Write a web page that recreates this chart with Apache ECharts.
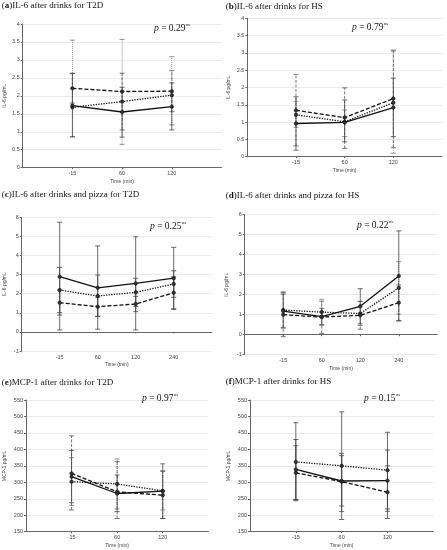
<!DOCTYPE html>
<html><head><meta charset="utf-8">
<script src="https://cdn.jsdelivr.net/npm/echarts@6/dist/echarts.min.js"></script>
<style>html,body{margin:0;padding:0;background:#fff}#c{width:447px;height:550px}</style>
</head><body><div id="c"></div>
<script>
// ---------- tick labels / categories ----------
const times3 = ['-15', '60', '120'];
const times4 = ['-15', '60', '120', '240'];

// ---------- (a) IL-6 after drinks for T2D ----------
const aSolid = [1.73, 1.55, 1.70], aSolidLo = [0.86, 0.85, 1.05], aSolidHi = [2.62, 2.24, 2.36];
const aDashed = [2.21, 2.12, 2.13], aDashedLo = [1.80, 1.05, 1.56], aDashedHi = [2.63, 2.63, 2.70];
const aDotted = [1.68, 1.84, 2.02], aDottedLo = [0.86, 0.65, 1.19], aDottedHi = [3.55, 3.57, 3.09];

// ---------- (b) IL-6 after drinks for HS ----------
const bSolid = [0.96, 0.99, 1.42], bSolidLo = [0.19, 0.43, 0.58], bSolidHi = [1.73, 1.64, 2.27];
const bDashed = [1.34, 1.13, 1.68], bDashedLo = [0.31, 0.24, 0.26], bDashedHi = [2.38, 1.99, 3.08];
const bDotted = [1.21, 1.01, 1.56], bDottedLo = [0.85, 0.58, 0.10], bDottedHi = [1.59, 1.35, 3.05];

// ---------- (c) IL-6 after drinks and pizza for T2D ----------
const cSolid = [2.89, 2.31, 2.54, 2.81], cSolidLo = [0.10, 0.14, 0.10, 1.18], cSolidHi = [5.74, 4.50, 4.98, 4.43];
const cDashed = [1.53, 1.32, 1.46, 2.05], cDashedLo = [0.88, 0.82, 1.06, 1.21], cDashedHi = [2.18, 1.82, 1.86, 2.89];
const cDotted = [2.19, 1.88, 2.07, 2.51], cDottedLo = [1.01, 0.80, 1.33, 1.81], cDottedHi = [3.38, 2.98, 2.81, 3.20];

// ---------- (d) IL-6 after drinks and pizza for HS ----------
const dSolid = [1.18, 0.90, 1.42, 2.94], dSolidLo = [0.33, 0.48, 0.54, 0.69], dSolidHi = [2.03, 1.32, 2.30, 5.19];
const dDashed = [1.00, 0.88, 0.97, 1.60], dDashedLo = [-0.10, 0.07, 0.27, 0.70], dDashedHi = [2.10, 1.67, 1.67, 2.49];
const dDotted = [1.23, 1.13, 1.06, 2.34], dDottedLo = [0.37, 0.50, 0.46, 1.03], dDottedHi = [2.15, 1.77, 1.66, 3.65];

// ---------- (e) MCP-1 after drinks for T2D ----------
const eSolid = [317, 266, 273], eSolidLo = [238, 211, 190], eSolidHi = [397, 322, 356];
const eDashed = [327, 271, 261], eDashedLo = [216, 190, 190], eDashedHi = [441, 363, 335];
const eDotted = [302, 295, 274], eDottedLo = [230, 219, 216], eDottedHi = [375, 371, 333];

// ---------- (f) MCP-1 after drinks for HS ----------
const fSolid = [339, 304, 305], fSolidLo = [248, 228, 212], fSolidHi = [430, 381, 398];
const fDashed = [329, 302, 270], fDashedLo = [247, 211, 190], fDashedHi = [411, 388, 350];
const fDotted = [362, 350, 337], fDottedLo = [244, 187, 219], fDottedHi = [481, 514, 452];

const titles = ['IL-6 after drinks for T2D', 'IL-6 after drinks for HS',
  'IL-6 after drinks and pizza for T2D', 'IL-6 after drinks and pizza for HS',
  'MCP-1 after drinks for T2D', 'MCP-1 after drinks for HS'];
const letters = ['a', 'b', 'c', 'd', 'e', 'f'];
const pValues = ['0.29', '0.79', '0.25', '0.22', '0.97', '0.15'];
const yNames = ['IL-6 pg/mL', 'IL-6 pg/mL', 'IL-6 pg/mL', 'IL-6 pg/mL', 'MCP-1 pg/mL', 'MCP-1 pg/mL'];
const yRanges = [[0, 4, 0.5], [0, 4, 0.5], [-1, 6, 1], [-1, 6, 1], [150, 550, 50], [150, 550, 50]];

const panelData = [
  { times: times3, solid: [aSolid, aSolidLo, aSolidHi], dashed: [aDashed, aDashedLo, aDashedHi], dotted: [aDotted, aDottedLo, aDottedHi] },
  { times: times3, solid: [bSolid, bSolidLo, bSolidHi], dashed: [bDashed, bDashedLo, bDashedHi], dotted: [bDotted, bDottedLo, bDottedHi] },
  { times: times4, solid: [cSolid, cSolidLo, cSolidHi], dashed: [cDashed, cDashedLo, cDashedHi], dotted: [cDotted, cDottedLo, cDottedHi] },
  { times: times4, solid: [dSolid, dSolidLo, dSolidHi], dashed: [dDashed, dDashedLo, dDashedHi], dotted: [dDotted, dDottedLo, dDottedHi] },
  { times: times3, solid: [eSolid, eSolidLo, eSolidHi], dashed: [eDashed, eDashedLo, eDashedHi], dotted: [eDotted, eDottedLo, eDottedHi] },
  { times: times3, solid: [fSolid, fSolidLo, fSolidHi], dashed: [fDashed, fDashedLo, fDashedHi], dotted: [fDotted, fDottedLo, fDottedHi] }
];

// ---------- layout (pixels) ----------
const layout = [
  { grid: [22.7, 24, 198.8, 143.7], title: [1.7, 6], p: [154, 28], yGap: 16, barsSolid: false },
  { grid: [247.3, 18.3, 194.7, 138.4], title: [225.7, 6.7], p: [352, 27], yGap: 16.6, barsSolid: false },
  { grid: [21.7, 217.3, 190, 133.7], title: [1.7, 195], p: [150, 226], yGap: 15, barsSolid: true },
  { grid: [244.7, 214.7, 192.6, 140], title: [225.7, 196], p: [357, 225], yGap: 15.7, barsSolid: false },
  { grid: [26, 400, 182.3, 131.7], title: [1.7, 383], p: [142, 398], yGap: 19.3, barsSolid: false },
  { grid: [250, 400, 183.3, 131.7], title: [225.7, 382], p: [364, 398], yGap: 19.3, barsSolid: true }
];

const styles = {
  solid: { dash: null, barColor: '#444', barDash: null },
  dashed: { dash: [4, 2], barColor: '#555', barDash: [3, 1.5] },
  dotted: { dash: [1.3, 1.3], barColor: '#777', barDash: [1, 1] }
};

const serif = 'Liberation Serif, Times New Roman, serif';
const sans = 'Liberation Sans, Arial, sans-serif';

const grid = [], xAxis = [], yAxis = [], series = [], title = [];

panelData.forEach((pd, i) => {
  const L = layout[i];
  const [ymin, ymax, step] = yRanges[i];
  grid.push({ left: L.grid[0], top: L.grid[1], width: L.grid[2], height: L.grid[3], containLabel: false });
  const cats = [''].concat(pd.times).concat(['']);
  xAxis.push({
    type: 'category', gridIndex: i, data: cats, boundaryGap: false,
    name: 'Time (min)', nameLocation: 'middle', nameGap: 11,
    nameTextStyle: { fontSize: 5, color: '#444', fontFamily: sans },
    axisLine: { lineStyle: { color: '#666', width: 1 } },
    axisTick: { show: true, length: 1.5, interval: (idx, v) => v !== '', lineStyle: { color: '#666' } },
    axisLabel: { interval: 0, fontSize: 5.5, color: '#444', margin: 3, fontFamily: sans },
    splitLine: { show: false }
  });
  yAxis.push({
    type: 'value', gridIndex: i, min: ymin, max: ymax, interval: step,
    name: yNames[i], nameLocation: 'middle', nameGap: L.yGap,
    nameTextStyle: { fontSize: 5, color: '#444', fontFamily: sans },
    axisLine: { show: true, lineStyle: { color: '#666', width: 1 } },
    axisTick: { show: true, length: 2, lineStyle: { color: '#666' } },
    axisLabel: { fontSize: 5.5, color: '#444', margin: 3, fontFamily: sans },
    splitLine: { show: true, lineStyle: { color: '#e4e4e4', width: 0.8 } }
  });

  ['dotted', 'dashed', 'solid'].forEach(kind => {
    const [mean, lo, hi] = pd[kind];
    const st = styles[kind];
    const barDash = L.barsSolid ? null : st.barDash;
    const barColor = L.barsSolid ? '#444' : st.barColor;
    series.push({
      type: 'custom', xAxisIndex: i, yAxisIndex: i, z: 2, silent: true, clip: true,
      encode: { x: 0, y: [1, 2] },
      data: mean.map((m, k) => [k + 1, Math.max(lo[k], ymin), Math.min(hi[k], ymax)]),
      renderItem: (params, api) => {
        const x = api.value(0);
        const a = api.coord([x, api.value(1)]);
        const b = api.coord([x, api.value(2)]);
        const hw = 2.5;
        const s = { stroke: barColor, lineWidth: 0.8, lineDash: barDash, fill: null };
        return {
          type: 'group', children: [
            { type: 'line', shape: { x1: a[0], y1: a[1], x2: b[0], y2: b[1] }, style: s },
            { type: 'line', shape: { x1: a[0] - hw, y1: a[1], x2: a[0] + hw, y2: a[1] }, style: { stroke: barColor, lineWidth: 0.8 } },
            { type: 'line', shape: { x1: b[0] - hw, y1: b[1], x2: b[0] + hw, y2: b[1] }, style: { stroke: barColor, lineWidth: 0.8 } }
          ]
        };
      }
    });
    series.push({
      type: 'line', xAxisIndex: i, yAxisIndex: i, z: 5, silent: true,
      data: [null].concat(mean).concat([null]),
      symbol: 'circle', symbolSize: 3.5, showSymbol: true,
      itemStyle: { color: '#333', borderColor: '#111', borderWidth: 0.6 },
      lineStyle: { color: '#111', width: 1.3, type: st.dash ? st.dash : 'solid' },
      animation: false
    });
  });

  title.push({
    left: L.title[0], top: L.title[1] - 5.5, padding: 0,
    text: '(' + '{b|' + letters[i] + '}' + ')' + titles[i],
    textStyle: {
      fontFamily: serif, fontSize: 9, fontWeight: 'normal', color: '#111', lineHeight: 11,
      rich: { b: { fontFamily: serif, fontSize: 9, fontWeight: 'bold', color: '#111', lineHeight: 11 } }
    }
  });
  title.push({
    left: L.p[0], top: L.p[1] - 5.5, padding: 0,
    text: '{i|p} = ' + pValues[i] + '{s|ns}',
    textStyle: {
      fontFamily: serif, fontSize: 9.5, fontWeight: 'normal', color: '#111', lineHeight: 11,
      rich: {
        i: { fontFamily: serif, fontSize: 9.5, fontStyle: 'italic', color: '#111', lineHeight: 11 },
        s: { fontFamily: serif, fontSize: 4.5, color: '#111', lineHeight: 5, verticalAlign: 'top', padding: [0, 0, 0, 0.5] }
      }
    }
  });
});

const chart = echarts.init(document.getElementById('c'), null, { renderer: 'canvas' });
chart.setOption({ animation: false, backgroundColor: '#fff', title, grid, xAxis, yAxis, series });
</script></body></html>
